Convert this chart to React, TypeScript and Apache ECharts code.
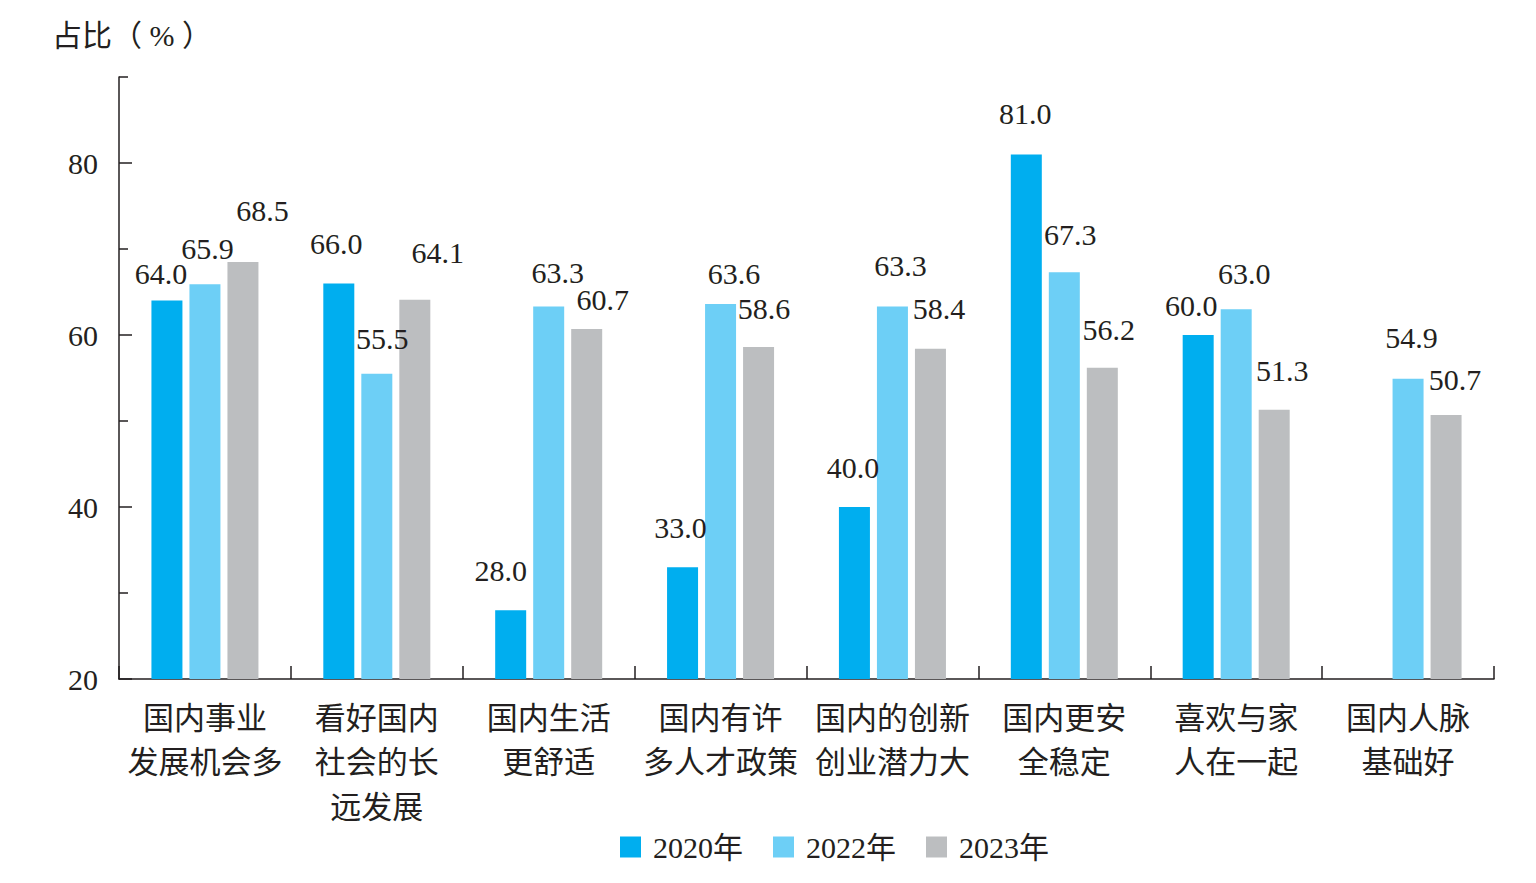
import React, { useEffect, useRef } from "react";
import * as echarts from "echarts";

const categories = [
  "国内事业\n发展机会多",
  "看好国内\n社会的长\n远发展",
  "国内生活\n更舒适",
  "国内有许\n多人才政策",
  "国内的创新\n创业潜力大",
  "国内更安\n全稳定",
  "喜欢与家\n人在一起",
  "国内人脉\n基础好",
];
const seriesNames = ["2020年", "2022年", "2023年"];
const values2020: (number | null)[] = [64.0, 66.0, 28.0, 33.0, 40.0, 81.0, 60.0, null];
const values2022: (number | null)[] = [65.9, 55.5, 63.3, 63.6, 63.3, 67.3, 63.0, 54.9];
const values2023: (number | null)[] = [68.5, 64.1, 60.7, 58.6, 58.4, 56.2, 51.3, 50.7];
const yLabelValues = [20, 40, 60, 80];
const yMinorValues = [30, 50, 70, 90];

// label nudges: [dx, height of label centre above bar top] (layout only)
const nudge2020: ([number, number] | null)[] = [[-6, 25], [-2.5, 38], [-10, 38], [-2, 38], [-1.5, 38], [-1, 39], [-7, 27.5], null];
const nudge2022: ([number, number] | null)[] = [[2.5, 34], [5.5, 33], [9, 32.6], [13.5, 28.5], [8, 39.6], [6, 36], [8, 34], [3.5, 39.4]];
const nudge2023: ([number, number] | null)[] = [[19.5, 49], [23, 45], [16, 27], [5.5, 36.5], [8.5, 38], [6.5, 35.7], [8, 37], [9, 33]];

const colors = ["#00aeef", "#6dcff6", "#bcbec0"];
const textColor = "#231f20";
const serif = "'Liberation Serif', 'Times New Roman', 'Noto Sans CJK SC', serif";

function buildData(vals: (number | null)[], nudges: ([number, number] | null)[]) {
  return vals.map((v, i) => {
    if (v == null) return "-";
    const n = nudges[i] || [0, 30];
    return { value: v, label: { offset: [n[0], -(n[1] - 13)] } };
  });
}

export default function App() {
  const ref = useRef<HTMLDivElement>(null);
  useEffect(() => {
    if (!ref.current) return;
    const chart = echarts.init(ref.current, null, { renderer: "svg" });
    const allVals = [values2020, values2022, values2023];
    const allNudges = [nudge2020, nudge2022, nudge2023];
    chart.setOption({
      animation: false,
      backgroundColor: "#ffffff",
      title: {
        text: "占比（ % ）",
        left: 52,
        top: 20,
        padding: 0,
        textStyle: { fontSize: 30, fontWeight: "normal", color: textColor, fontFamily: serif, lineHeight: 30 },
      },
      legend: {
        left: 620,
        top: 832,
        padding: 0,
        itemWidth: 21,
        itemHeight: 21,
        itemGap: 30,
        icon: "rect",
        data: seriesNames,
        textStyle: { fontSize: 30, color: textColor, fontFamily: serif, padding: [0, 0, 0, 7], lineHeight: 30 },
      },
      grid: { left: 119, right: 42, top: 77, bottom: 204, containLabel: false },
      xAxis: {
        type: "category",
        data: categories,
        boundaryGap: true,
        axisLine: { show: true, lineStyle: { color: textColor, width: 1.5 } },
        axisTick: { show: true, inside: true, length: 13, lineStyle: { color: textColor, width: 1.5 } },
        axisLabel: {
          interval: 0,
          margin: 17,
          fontSize: 31,
          lineHeight: 44.5,
          color: textColor,
          fontFamily: serif,
        },
        splitLine: { show: false },
      },
      yAxis: [
        {
          type: "value",
          min: 20,
          max: 90,
          interval: 10,
          axisLine: { show: true, lineStyle: { color: textColor, width: 1.5 } },
          axisTick: { show: true, inside: true, length: 13, customValues: yLabelValues, lineStyle: { color: textColor, width: 1.5 } },
          axisLabel: {
            customValues: yLabelValues,
            formatter: (v: number) => (yLabelValues.indexOf(v) >= 0 ? String(v) : ""),
            margin: 21,
            fontSize: 30,
            color: textColor,
            fontFamily: serif,
          },
          splitLine: { show: false },
        },
        {
          type: "value",
          min: 20,
          max: 90,
          interval: 10,
          position: "left",
          axisLine: { show: false },
          axisTick: { show: true, inside: true, length: 9, customValues: yMinorValues, lineStyle: { color: textColor, width: 1.5 } },
          axisLabel: { show: false },
          splitLine: { show: false },
        },
      ],
      series: seriesNames.map((name, s) => ({
        name,
        type: "bar",
        yAxisIndex: 0,
        barWidth: 31,
        barGap: "22.6%",
        itemStyle: { color: colors[s] },
        data: buildData(allVals[s], allNudges[s]),
        label: {
          show: true,
          position: "top",
          distance: 0,
          fontSize: 30,
          lineHeight: 30,
          color: textColor,
          fontFamily: serif,
          formatter: (p: any) => Number(p.value).toFixed(1),
        },
      })),
    });
    return () => chart.dispose();
  }, []);
  return <div ref={ref} style={{ position: "fixed", left: 0, top: 0, width: 1536, height: 883 }} />;
}
